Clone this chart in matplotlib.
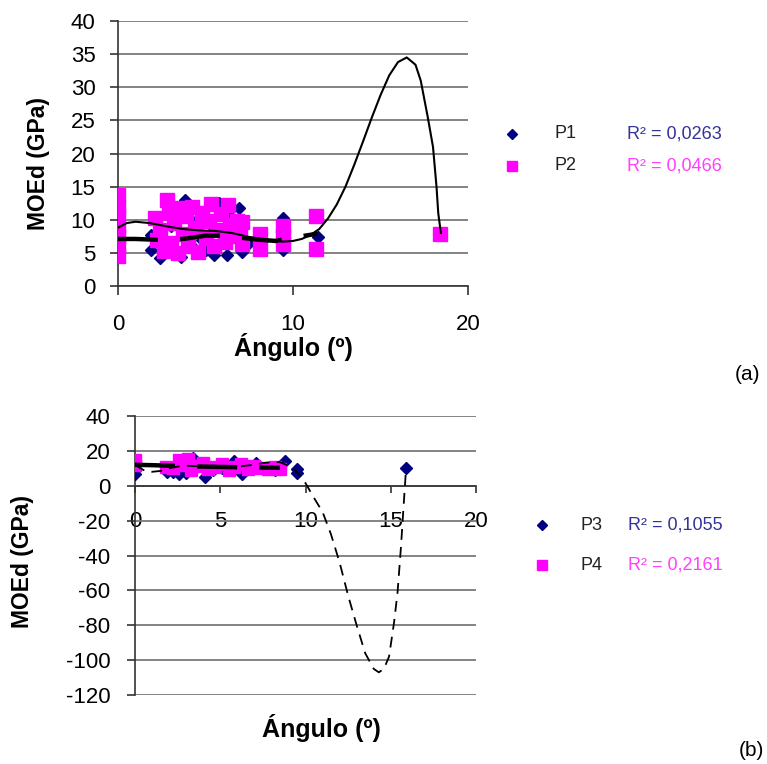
import numpy as np
import matplotlib
matplotlib.use("Agg")
from matplotlib import pyplot as plt
from matplotlib.lines import Line2D

plt.rcParams['font.family'] = ['Liberation Sans', 'DejaVu Sans']
plt.rcParams['axes.unicode_minus'] = False

navy = "#000080"
magenta = "#ff00ff"
r2_navy = "#333399"
r2_magenta = "#ff40ff"
grid_col = "#7a7a7a"

# ---- panel (a) data: P1 / P2 ----
p1_x = [0, 0, 0, 1.9, 1.9, 2.4, 2.6, 3.0, 3.3, 3.6, 3.8, 4.0, 4.2, 4.5, 4.8, 5.0,
        5.2, 5.5, 5.8, 5.8, 6.0, 6.2, 6.4, 6.9, 6.9, 7.1, 7.5, 8.2, 9.4, 9.4, 9.4, 11.4]
p1_y = [7.0, 9.5, 12.0, 7.7, 5.4, 4.3, 6.5, 9.0, 5.0, 4.4, 13.0, 8.0, 6.0, 10.0, 7.0, 5.5,
        9.5, 4.7, 12.6, 8.5, 6.5, 4.7, 10.5, 11.8, 7.5, 5.1, 6.5, 6.8, 10.2, 5.4, 7.5, 7.4]

p2_x = [0, 0, 0, 0, 0, 0, 0,
        2.1, 2.2, 2.4, 2.6, 2.8, 2.9, 3.0, 3.2, 3.4, 3.5, 3.7, 3.9, 4.0, 4.2, 4.4,
        4.6, 4.8, 5.0, 5.2, 5.3, 5.5, 5.7, 5.9, 6.1, 6.3, 6.4, 6.6, 6.8, 7.0, 7.1, 7.1,
        8.1, 8.1, 9.4, 9.4, 9.4, 11.3, 11.3, 18.4]
p2_y = [4.5, 6.0, 7.5, 9.0, 10.5, 12.0, 13.8,
        10.2, 7.0, 8.5, 5.3, 13.0, 11.0, 6.5, 9.5, 5.0, 11.8, 7.8, 10.5, 6.0, 12.0, 8.8,
        5.2, 11.0, 7.2, 9.8, 12.4, 6.0, 8.5, 10.8, 6.6, 12.2, 9.2, 7.5, 9.8, 8.0, 6.4, 9.6,
        7.8, 5.6, 9.0, 7.5, 6.4, 10.6, 5.6, 7.8]

# trend lines
p1_trend_x = [0, 1, 2, 3, 4, 5, 6, 7, 8, 9, 10, 10.7, 11.4]
p1_trend_y = [7.1, 7.1, 7.0, 6.9, 7.2, 7.6, 7.6, 7.3, 7.0, 6.8, 7.3, 7.6, 7.9]

p2_trend_x = [0, 0.5, 1.0, 1.8, 2.8, 3.7, 4.6, 5.6, 6.5, 7.5, 8.5, 9.4, 10.0, 10.5,
              11.0, 11.5, 12.0, 12.5, 13.0, 13.5, 14.0, 14.5, 15.0, 15.5, 16.0, 16.5,
              17.0, 17.3, 17.7, 18.0, 18.2, 18.3, 18.45]
p2_trend_y = [8.8, 9.5, 9.7, 9.5, 9.0, 8.6, 8.4, 8.3, 8.0, 7.4, 7.0, 6.7, 6.8, 7.1,
              7.7, 8.6, 10.2, 12.3, 15.0, 18.3, 21.8, 25.4, 28.8, 31.8, 33.8, 34.5,
              33.4, 31.0, 25.5, 21.0, 15.0, 11.0, 8.0]

# ---- panel (b) data: P3 / P4 ----
p3_x = [0, 0, 1.9, 2.2, 2.6, 3.0, 3.4, 3.9, 4.1, 4.6, 5.1, 5.8, 6.3, 7.1, 7.6, 8.2,
        8.8, 9.5, 9.5, 15.9]
p3_y = [6.5, 9.0, 8.0, 8.0, 7.0, 7.5, 16.0, 12.0, 5.0, 9.0, 10.0, 14.4, 6.9, 13.2,
        10.0, 9.0, 14.4, 9.8, 7.5, 10.0]

p4_x = [0, 0, 1.8, 2.2, 2.6, 2.9, 3.1, 3.3, 3.6, 4.0, 4.3, 4.7, 5.1, 5.5, 5.8, 6.2,
        6.6, 7.0, 7.4, 7.8, 8.2, 8.5]
p4_y = [15.0, 12.0, 11.0, 10.0, 15.0, 12.0, 15.5, 9.0, 11.5, 13.0, 9.5, 11.0, 12.5,
        9.0, 11.0, 12.5, 9.5, 11.5, 10.0, 9.5, 10.5, 9.5]

p3_trend_x = [0, 0.5, 1.0, 1.5, 2, 2.5, 3, 4, 5, 6, 7, 7.5, 8, 8.5, 9, 9.5, 10,
              10.5, 11, 11.5, 12, 12.5, 13, 13.5, 14, 14.3, 14.6, 14.9, 15.2, 15.4,
              15.6, 15.75, 15.9]
p3_trend_y = [12, 9, 8, 8.5, 10, 11, 11.5, 11, 10.5, 11, 12, 13, 13.5, 13.5, 11.5,
              8, 1.5, -7, -15, -28, -44, -63, -80, -96, -105, -107, -105, -98, -78,
              -61, -35, -12, 10]

p4_trend_x = [0, 1, 2, 3, 4, 5, 6, 7, 8, 8.5]
p4_trend_y = [12.0, 11.8, 11.5, 11.2, 11.0, 10.8, 10.6, 10.5, 10.4, 10.3]

W, H = 767, 764
fig = plt.figure(figsize=(W / 100, H / 100), dpi=100)


def px_axes(x0, y0, x1, y1):
    return fig.add_axes([x0 / W, 1 - y1 / H, (x1 - x0) / W, (y1 - y0) / H])


def style(ax):
    for s in ["top", "right"]:
        ax.spines[s].set_visible(False)
    for s in ["left", "bottom"]:
        ax.spines[s].set_color("#333333")
        ax.spines[s].set_linewidth(1.2)
    ax.yaxis.grid(True, color=grid_col, linewidth=1.3)
    ax.set_axisbelow(True)


# ---------------- (a) ----------------
ax1 = px_axes(118, 21, 468, 286)
style(ax1)
ax1.plot(p1_x, p1_y, linestyle="none", marker="D", ms=6.6, color=navy, zorder=3)
ax1.plot(p2_x, p2_y, linestyle="none", marker="s", ms=9.4, color=magenta, zorder=4)
ax1.plot(p1_trend_x, p1_trend_y, color="black", lw=3.2, dashes=(9, 5), zorder=5)
ax1.plot(p2_trend_x, p2_trend_y, color="black", lw=1.5, zorder=5)
ax1.set_xlim(0, 20)
ax1.set_ylim(0, 40)
ax1.set_xticks([0, 10, 20])
ax1.set_yticks(range(0, 41, 5))
ax1.tick_params(axis="x", direction="out", length=6.5, width=1.2, pad=13.5, labelsize=16,
                color="#333333")
ax1.tick_params(axis="y", direction="out", length=5.8, width=1.2, pad=10.5, labelsize=16,
                color="#333333")
ax1.set_ylabel("MOEd (GPa)", fontsize=16.5, fontweight="bold", va="center", ha="center",
               rotation_mode="anchor")
ax1.yaxis.set_label_coords((38 - 118) / 350, 1 - (164 - 21) / 265)
ax1.set_xlabel("Ángulo (º)", fontsize=18, fontweight="bold", va="center")
ax1.xaxis.set_label_coords(0.5, 1 - (347 - 21) / 265)

# ---------------- (b) ----------------
ax2 = px_axes(135, 416, 476, 695)
style(ax2)
ax2.spines["bottom"].set_position(("data", 0))
ax2.plot(p3_x, p3_y, linestyle="none", marker="D", ms=6.2, color=navy, zorder=3)
ax2.plot(p4_x, p4_y, linestyle="none", marker="s", ms=8.8, color=magenta, zorder=4)
ax2.plot(p4_trend_x, p4_trend_y, color="black", lw=3.2, dashes=(9, 5), zorder=5)
ax2.plot(p3_trend_x, p3_trend_y, color="black", lw=1.3, dashes=(6, 4), zorder=5)
ax2.set_xlim(0, 20)
ax2.set_ylim(-120, 40)
ax2.set_xticks(range(0, 21, 5))
ax2.set_yticks(range(-120, 41, 20))
ax2.tick_params(axis="x", direction="out", length=5, width=1.2, pad=13, labelsize=16,
                color="#333333")
ax2.tick_params(axis="y", direction="out", length=5.8, width=1.2, pad=12, labelsize=16,
                color="#333333")
ax2.set_ylabel("MOEd (GPa)", fontsize=16.5, fontweight="bold", va="center", ha="center",
               rotation_mode="anchor")
ax2.yaxis.set_label_coords((23 - 135) / 341, 1 - (562 - 416) / 279)
ax2.set_xlabel("Ángulo (º)", fontsize=18, fontweight="bold", va="center")
ax2.xaxis.set_label_coords((321 - 135) / 341, 1 - (728 - 416) / 279)


# ---------------- legends + R² labels ----------------
def legend_row(mx, tx, rx, y, marker, ms, color, label, r2, r2col):
    fy = 1 - y / H
    fig.add_artist(Line2D([mx / W], [fy], marker=marker, ms=ms, color=color,
                          linestyle="none", transform=fig.transFigure))
    fig.text(tx / W, fy, label, fontsize=13, va="center", ha="left", color="#222222")
    fig.text(rx / W, fy, r2, fontsize=13, va="center", ha="left", color=r2col)


legend_row(512, 555, 627, 134, "D", 5.2, navy, "P1", "R² = 0,0263", r2_navy)
legend_row(512, 555, 627, 166, "s", 7.8, magenta, "P2", "R² = 0,0466", r2_magenta)
legend_row(542, 580, 628, 525, "D", 5.2, navy, "P3", "R² = 0,1055", r2_navy)
legend_row(542, 580, 628, 565, "s", 7.8, magenta, "P4", "R² = 0,2161", r2_magenta)

fig.text(735 / W, 1 - 375 / H, "(a)", fontsize=15, va="center", ha="left")
fig.text(739 / W, 1 - 750 / H, "(b)", fontsize=15, va="center", ha="left")

fig.savefig("out.png", dpi=100)
